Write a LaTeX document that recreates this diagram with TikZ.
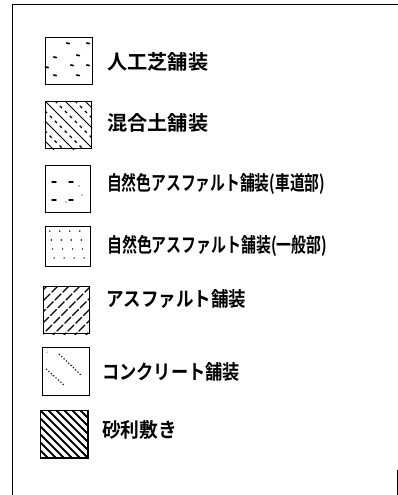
\documentclass[tikz,border=0pt]{standalone}
\usepackage{fontspec}
\usepackage{graphicx}
\newfontfamily\jpfont{Noto Sans CJK JP Bold}
\newcommand{\fitlbl}[2]{\resizebox{#1pt}{\height}{#2}}
\tikzset{
  swatch/.style={draw=black, line width=1pt, minimum width=47pt, minimum height=47pt, inner sep=0pt, anchor=north west},
  lbl/.style={anchor=west, inner sep=0pt, font=\jpfont\fontsize{20pt}{22pt}\selectfont},
  hatch/.style={line width=0.7pt, black},
  tick/.style={line width=1.7pt, black, line cap=round},
  frame/.style={line width=1.3pt, black}
}
\begin{document}
\begin{tikzpicture}[x=1pt,y=-1pt]
\useasboundingbox (0,0) rectangle (398,495);
% frame
\coordinate (ftl) at (12.5,4.5);
\coordinate (fbl) at (12.5,495);
\coordinate (ftr) at (398,4.5);
\coordinate (frt) at (397,470);
\coordinate (frb) at (397,495);
\draw[frame] (fbl) -- (ftl) -- (ftr);
\draw[frame, line width=1pt] (frt) -- (frb);

% Box 1: artificial turf
\node[swatch] (b1) at (45,37) {};
\begin{scope}[shift={(45,37)}]
  \foreach \px/\py in {23/6,43/6,10/20,33/18,27/28,43/28,10/38,33/38,2/30}
    \draw[tick] (\px-1.3,\py) -- (\px+1.3,\py+0.6);
\end{scope}
\node[lbl] (t1) at (107,62) {\fitlbl{101}{人工芝舗装}};

% Box 2: mixed soil
\node[swatch, minimum width=46pt] (b2) at (45,101) {};
\begin{scope}
  \clip (b2.south west) rectangle (b2.north east);
  \begin{scope}[shift={(45,101)}]
    \foreach \c in {-40,-20,0,20,40}
      \draw[hatch, line width=1pt] (\c,0) -- (\c+50,50);
    \foreach \c in {-30,-10,10,30}
      \draw[hatch, line width=1.3pt, dash pattern=on 3pt off 4pt] (\c,0) -- (\c+50,50);
  \end{scope}
\end{scope}
\node[lbl] (t2) at (107,123) {\fitlbl{101}{混合土舗装}};

% Box 3: natural colour asphalt (roadway)
\node[swatch, minimum width=45pt] (b3) at (45,165) {};
\begin{scope}[shift={(45,165)}]
  \foreach \ax/\ay/\bx in {7/17/11, 24/17/28, 7/35/11, 24/35/28}
    \draw[tick, line width=1.4pt] (\ax,\ay) -- (\bx,\ay);
  \foreach \px/\py in {34/21, 21/37, 37/30}
    \fill (\px,\py) circle (0.7);
\end{scope}
\node[lbl] (t3) at (107,184) {\fitlbl{218}{自然色アスファルト舗装(車道部)}};

% Box 4: natural colour asphalt (general)
\node[swatch, minimum width=45pt, minimum height=40pt] (b4) at (45,226) {};
\begin{scope}[shift={(45,226)}]
  \foreach \py in {5,14,23,32}
    \foreach \px in {6,16,26,36}
      \fill (\px+0.02*\py*8-2,\py) circle (0.8);
\end{scope}
\node[lbl] (t4) at (107,246) {\fitlbl{220}{自然色アスファルト舗装(一般部)}};

% Box 5: asphalt
\node[swatch, minimum width=46pt] (b5) at (43,286) {};
\begin{scope}
  \clip (b5.south west) rectangle (b5.north east);
  \begin{scope}[shift={(43,286)}]
    \foreach \c in {4,15,26,37,48,59,70,81,92}
      \draw[hatch, line width=1.2pt, dash pattern=on 9pt off 2pt] (\c,0) -- (\c-50,50);
  \end{scope}
\end{scope}
\node[lbl] (t5) at (106,299) {\fitlbl{140}{アスファルト舗装}};

% Box 6: concrete
\node[swatch, minimum height=48pt] (b6) at (42,347) {};
\begin{scope}[shift={(42,347)}]
  \draw[hatch, line width=1.1pt, dash pattern=on 1.2pt off 2pt] (17,7) -- (39,28);
  \draw[hatch, line width=1.1pt, dash pattern=on 1.2pt off 2pt] (4,22) -- (22,38);
  \foreach \px/\py in {5/5, 10/28, 30/18}
    \fill (\px,\py) circle (0.5);
\end{scope}
\node[lbl] (t6) at (102,372) {\fitlbl{138}{コンクリート舗装}};

% Box 7: gravel
\node[swatch] (b7) at (40,410) {};
\begin{scope}
  \clip (b7.south west) rectangle (b7.north east);
  \begin{scope}[shift={(40,410)}]
    \foreach \c in {-48,-40,...,48}
      \draw[hatch, line width=2pt] (\c,0) -- (\c+50,50);
  \end{scope}
\end{scope}
\draw[line width=1pt] (b7.south west) rectangle (b7.north east);
\node[lbl] (t7) at (102,430) {\fitlbl{75}{砂利敷き}};
\end{tikzpicture}
\end{document}
